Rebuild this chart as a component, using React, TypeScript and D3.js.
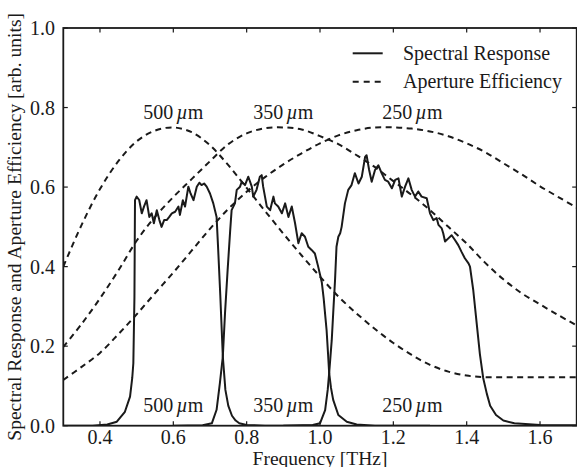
import React from "react";
import * as d3 from "d3";

// ---------- data ----------
const apertureFreq: number[] = [
  0.3, 0.35, 0.4, 0.45, 0.5, 0.55, 0.6, 0.65, 0.7, 0.75, 0.8, 0.85, 0.9, 0.95, 1.0,
  1.05, 1.1, 1.15, 1.2, 1.25, 1.3, 1.35, 1.4, 1.45, 1.5, 1.55, 1.6, 1.65, 1.7,
];
const aperture500: number[] = [
  0.4, 0.505, 0.595, 0.665, 0.715, 0.742, 0.75, 0.738, 0.705, 0.655, 0.598, 0.54, 0.483,
  0.428, 0.375, 0.325, 0.282, 0.243, 0.208, 0.178, 0.153, 0.136, 0.126, 0.122, 0.122,
  0.122, 0.122, 0.122, 0.122,
];
const aperture350: number[] = [
  0.198, 0.256, 0.32, 0.39, 0.465, 0.525, 0.575, 0.62, 0.665, 0.708, 0.735, 0.748, 0.75,
  0.745, 0.728, 0.708, 0.68, 0.65, 0.615, 0.58, 0.542, 0.5, 0.458, 0.41, 0.368, 0.333,
  0.305, 0.278, 0.252,
];
const aperture250: number[] = [
  0.115, 0.148, 0.183, 0.23, 0.28, 0.333, 0.385, 0.44, 0.495, 0.545, 0.588, 0.625, 0.657,
  0.685, 0.71, 0.73, 0.743, 0.75, 0.75, 0.747, 0.74, 0.728, 0.71, 0.688, 0.66, 0.632,
  0.602, 0.575, 0.548,
];

const band500Freq: number[] = [
  0.3, 0.38, 0.42, 0.446, 0.468, 0.482, 0.488, 0.491, 0.494, 0.4955, 0.5, 0.507, 0.514,
  0.52, 0.527, 0.5345, 0.541, 0.547, 0.555, 0.562, 0.568, 0.575, 0.582, 0.589, 0.596,
  0.605, 0.614, 0.618, 0.626, 0.632, 0.641, 0.647, 0.655, 0.664, 0.671, 0.677, 0.684,
  0.691, 0.7, 0.709, 0.718, 0.722, 0.728, 0.735, 0.742, 0.75, 0.76, 0.77, 0.78, 0.8,
  0.85, 1.0,
];
const band500Value: number[] = [
  0, 0, 0.003, 0.01, 0.035, 0.073, 0.12, 0.157, 0.324, 0.567, 0.576, 0.5675, 0.534,
  0.551, 0.567, 0.525, 0.534, 0.509, 0.542, 0.517, 0.5, 0.517, 0.517, 0.525, 0.534,
  0.538, 0.551, 0.53, 0.567, 0.551, 0.601, 0.584, 0.567, 0.601, 0.611, 0.605, 0.609,
  0.601, 0.584, 0.559, 0.525, 0.45, 0.33, 0.174, 0.09, 0.05, 0.025, 0.013, 0.006, 0.002,
  0, 0,
];

const band350Freq: number[] = [
  0.6, 0.68, 0.705, 0.718, 0.727, 0.735, 0.741, 0.748, 0.755, 0.759, 0.768, 0.773, 0.782,
  0.7865, 0.7955, 0.8045, 0.814, 0.818, 0.827, 0.836, 0.841, 0.845, 0.855, 0.864, 0.873,
  0.877, 0.886, 0.896, 0.905, 0.914, 0.923, 0.932, 0.941, 0.95, 0.959, 0.968, 0.977,
  0.986, 0.995, 1.0, 1.005, 1.01, 1.015, 1.018, 1.022, 1.025, 1.03, 1.036, 1.05, 1.073,
  1.1, 1.15, 1.3,
];
const band350Value: number[] = [
  0, 0.001, 0.006, 0.04, 0.107, 0.174, 0.283, 0.39, 0.49, 0.542, 0.559, 0.593, 0.601,
  0.6135, 0.605, 0.626, 0.601, 0.576, 0.593, 0.626, 0.63, 0.601, 0.551, 0.542, 0.576,
  0.559, 0.551, 0.534, 0.559, 0.525, 0.551, 0.509, 0.459, 0.484, 0.475, 0.45, 0.442,
  0.433, 0.4, 0.38, 0.36, 0.32, 0.27, 0.24, 0.18, 0.132, 0.095, 0.065, 0.027, 0.01,
  0.003, 0, 0,
];

const band250Freq: number[] = [
  0.9, 0.98, 1.0, 1.014, 1.021, 1.025, 1.032, 1.036, 1.041, 1.045, 1.05, 1.055, 1.059,
  1.068, 1.077, 1.086, 1.095, 1.105, 1.114, 1.123, 1.127, 1.134, 1.141, 1.15, 1.159,
  1.168, 1.177, 1.186, 1.196, 1.205, 1.214, 1.223, 1.232, 1.241, 1.25, 1.259, 1.268,
  1.277, 1.291, 1.3, 1.309, 1.318, 1.323, 1.332, 1.336, 1.341, 1.35, 1.359, 1.368, 1.377,
  1.386, 1.395, 1.405, 1.409, 1.418, 1.427, 1.436, 1.445, 1.455, 1.464, 1.48, 1.5, 1.53,
  1.6, 1.7,
];
const band250Value: number[] = [
  0, 0.002, 0.006, 0.039, 0.09, 0.132, 0.215, 0.283, 0.366, 0.45, 0.475, 0.484, 0.5,
  0.559, 0.593, 0.605, 0.635, 0.609, 0.626, 0.676, 0.68, 0.643, 0.6135, 0.643, 0.655,
  0.635, 0.618, 0.6135, 0.597, 0.618, 0.622, 0.576, 0.601, 0.622, 0.593, 0.576, 0.589,
  0.576, 0.572, 0.534, 0.517, 0.522, 0.505, 0.496, 0.484, 0.463, 0.471, 0.479, 0.467,
  0.454, 0.437, 0.421, 0.408, 0.4, 0.34, 0.26, 0.18, 0.12, 0.08, 0.05, 0.027, 0.013,
  0.006, 0.002, 0.001,
];

const xTicks: number[] = [0.4, 0.6, 0.8, 1.0, 1.2, 1.4, 1.6];
const yTicks: number[] = [0.0, 0.2, 0.4, 0.6, 0.8, 1.0];

const bandLabels: string[] = ["500", "350", "250"];
const bandLabelFreq: number[] = [0.6, 0.9, 1.252];
const topLabelValue = 0.772;
const bottomLabelValue = 0.035;

const legendLabels: string[] = ["Spectral Response", "Aperture Efficiency"];
const xAxisTitle = "Frequency [THz]";
const yAxisTitle = "Spectral Response and Aperture Efficiency [arb. units]";

// ---------- layout ----------
const W = 577;
const H = 467;
const L = 63.3;
const R = 576.7;
const T = 28;
const B = 425.7;
const FONT = "'Liberation Serif', 'Times New Roman', serif";
const INK = "#1a1a1a";

export default function App() {
  const x = d3.scaleLinear().domain([0.3, 1.7]).range([L, R]);
  const y = d3.scaleLinear().domain([0, 1]).range([B, T]);

  const solid = d3
    .line<[number, number]>()
    .x((d) => x(d[0]))
    .y((d) => y(d[1]));
  const smooth = d3
    .line<[number, number]>()
    .x((d) => x(d[0]))
    .y((d) => y(d[1]))
    .curve(d3.curveCatmullRom.alpha(0.5));

  const zip = (a: number[], b: number[]) => a.map((v, i) => [v, b[i]] as [number, number]);
  const apertures = [aperture500, aperture350, aperture250];
  const bands = [
    zip(band500Freq, band500Value),
    zip(band350Freq, band350Value),
    zip(band250Freq, band250Value),
  ];

  const tickLen = 4.5;

  const muLabel = (num: string, cx: number, cy: number, key: string) => (
    <text
      key={key}
      x={cx}
      y={cy}
      textAnchor="middle"
      fontFamily={FONT}
      fontSize={20}
      fill={INK}
    >
      {num}
      <tspan dx={3} fontStyle="italic">
        µ
      </tspan>
      <tspan>m</tspan>
    </text>
  );

  return (
    <svg
      width={W}
      height={H}
      style={{ position: "absolute", left: 0, top: 0, background: "#fff" }}
    >
      <defs>
        <clipPath id="plot">
          <rect x={L} y={T} width={R - L} height={B - T} />
        </clipPath>
      </defs>
      <rect x={0} y={0} width={W} height={H} fill="#fff" />

      <g clipPath="url(#plot)" fill="none" strokeLinejoin="round">
        {apertures.map((vals, i) => (
          <path
            key={"ap" + i}
            d={smooth(zip(apertureFreq, vals)) || ""}
            stroke={INK}
            strokeWidth={2}
            strokeDasharray="6,4.5"
          />
        ))}
        {bands.map((pts, i) => (
          <path key={"b" + i} d={solid(pts) || ""} stroke={INK} strokeWidth={2} />
        ))}
      </g>

      {/* ticks */}
      <g stroke={INK} strokeWidth={1.2}>
        {xTicks.map((t) => (
          <g key={"xt" + t}>
            <line x1={x(t)} x2={x(t)} y1={B} y2={B - tickLen} />
            <line x1={x(t)} x2={x(t)} y1={T} y2={T + tickLen} />
          </g>
        ))}
        {yTicks.map((t) => (
          <g key={"yt" + t}>
            <line x1={L} x2={L + tickLen} y1={y(t)} y2={y(t)} />
            <line x1={R} x2={R - tickLen} y1={y(t)} y2={y(t)} />
          </g>
        ))}
      </g>

      {/* frame */}
      <rect x={L} y={T} width={R - L} height={B - T} fill="none" stroke={INK} strokeWidth={1.8} />

      {/* tick labels */}
      <g fontFamily={FONT} fontSize={20} fill={INK}>
        {xTicks.map((t) => (
          <text key={"xl" + t} x={x(t)} y={444} textAnchor="middle">
            {t.toFixed(1)}
          </text>
        ))}
        {yTicks.map((t) => (
          <text key={"yl" + t} x={55} y={y(t) + 7} textAnchor="end">
            {t.toFixed(1)}
          </text>
        ))}
      </g>

      {/* axis titles */}
      <text x={(L + R) / 2} y={464.5} textAnchor="middle" fontFamily={FONT} fontSize={19.5} fill={INK}>
        {xAxisTitle}
      </text>
      <text
        transform={`translate(21,${(T + B) / 2}) rotate(-90)`}
        textAnchor="middle"
        fontFamily={FONT}
        fontSize={19.6}
        fill={INK}
      >
        {yAxisTitle}
      </text>

      {/* band labels */}
      {bandLabels.map((b, i) => muLabel(b, x(bandLabelFreq[i]), y(topLabelValue), "tl" + i))}
      {bandLabels.map((b, i) => muLabel(b, x(bandLabelFreq[i]), y(bottomLabelValue), "bl" + i))}

      {/* legend */}
      <line x1={352.7} x2={382.7} y1={53.3} y2={53.3} stroke={INK} strokeWidth={2} />
      <line
        x1={352.7}
        x2={382.7}
        y1={81.7}
        y2={81.7}
        stroke={INK}
        strokeWidth={2}
        strokeDasharray="6,5"
      />
      <text x={403} y={60} fontFamily={FONT} fontSize={20} fill={INK}>
        {legendLabels[0]}
      </text>
      <text x={403} y={88} fontFamily={FONT} fontSize={20} fill={INK}>
        {legendLabels[1]}
      </text>
    </svg>
  );
}
